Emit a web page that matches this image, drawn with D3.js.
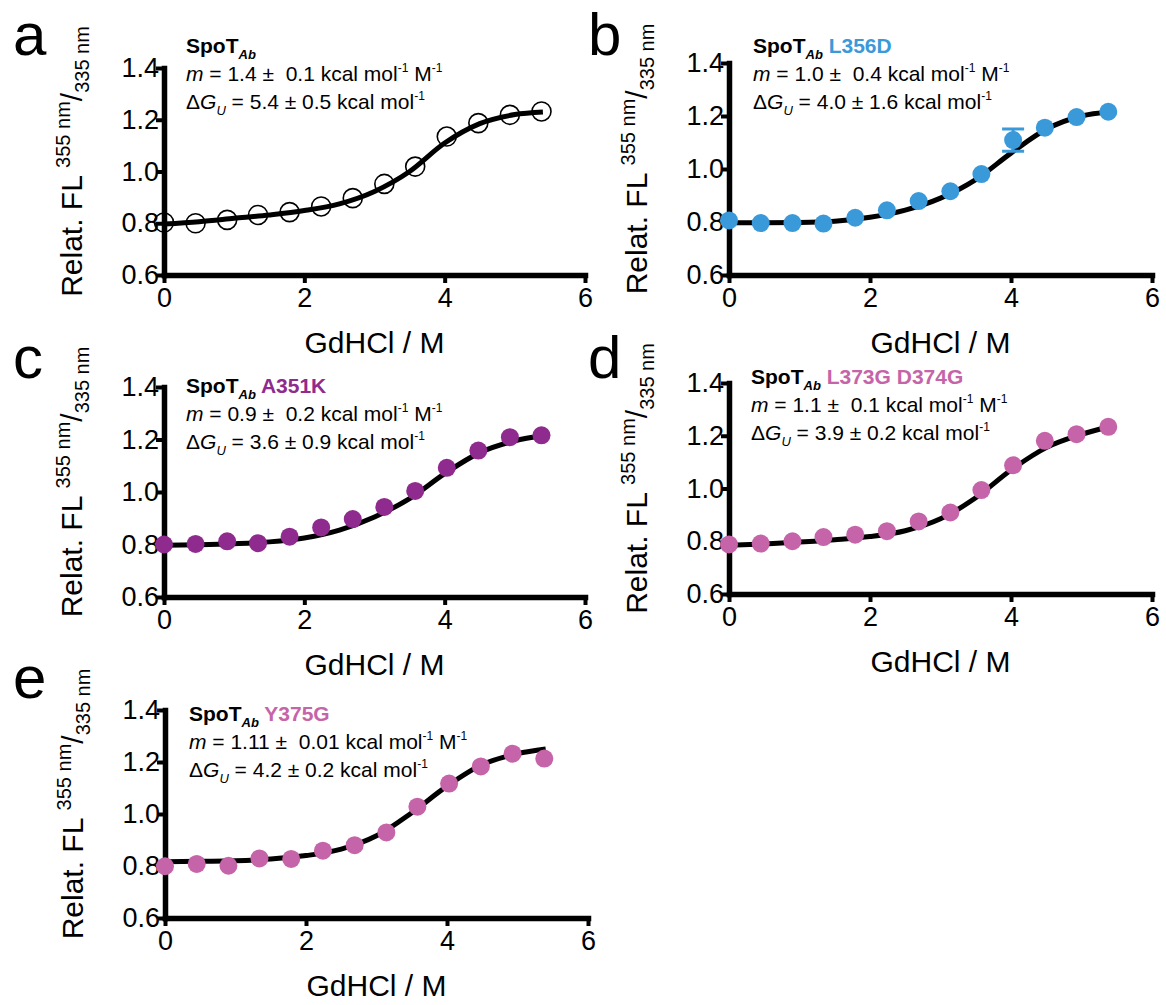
<!DOCTYPE html>
<html>
<head>
<meta charset="utf-8">
<script src="https://cdn.jsdelivr.net/npm/d3@7"></script>
<style>
  body { margin: 0; background: #fff; }
  text { font-family: "Liberation Sans", Arial, Helvetica, sans-serif; white-space: pre; }
</style>
</head>
<body>
<div id="plot"></div>
<script>
// GdHCl concentrations (M)
const conc = [0, 0.45, 0.9, 1.34, 1.79, 2.24, 2.69, 3.14, 3.58, 4.03, 4.48, 4.93, 5.38];
// x positions where the fitted curve was read
const fitConc = [0, 0.5, 1, 1.5, 2, 2.5, 3, 3.5, 4, 4.5, 5, 5.4];

const valsA = [0.803, 0.800, 0.813, 0.832, 0.843, 0.865, 0.897, 0.952, 1.019, 1.135, 1.187, 1.219, 1.232];
const fitA = [0.797, 0.806, 0.819, 0.832, 0.849, 0.875, 0.923, 1.000, 1.110, 1.185, 1.220, 1.230];

const valsB = [0.806, 0.796, 0.796, 0.794, 0.816, 0.844, 0.879, 0.916, 0.981, 1.109, 1.156, 1.196, 1.216];
const errB = [0, 0, 0, 0, 0, 0, 0, 0, 0, 0.042, 0, 0, 0];
const fitB = [0.797, 0.797, 0.798, 0.803, 0.818, 0.845, 0.890, 0.960, 1.060, 1.150, 1.200, 1.215];

const valsC = [0.800, 0.802, 0.812, 0.805, 0.830, 0.865, 0.897, 0.943, 1.004, 1.092, 1.158, 1.209, 1.216];
const fitC = [0.797, 0.799, 0.803, 0.810, 0.825, 0.855, 0.905, 0.975, 1.070, 1.150, 1.195, 1.215];

const valsD = [0.788, 0.791, 0.800, 0.816, 0.825, 0.838, 0.875, 0.909, 0.994, 1.088, 1.181, 1.206, 1.234];
const fitD = [0.785, 0.790, 0.797, 0.806, 0.818, 0.840, 0.885, 0.965, 1.070, 1.155, 1.205, 1.235];

const valsE = [0.799, 0.808, 0.801, 0.829, 0.827, 0.859, 0.880, 0.929, 1.028, 1.117, 1.183, 1.232, 1.213];
const fitE = [0.816, 0.818, 0.820, 0.827, 0.840, 0.865, 0.916, 1.005, 1.107, 1.190, 1.232, 1.250];

const xTicks = [0, 2, 4, 6];
const yTicks = [0.6, 0.8, 1.0, 1.2, 1.4];

const letters = ["a", "b", "c", "d", "e"];
const mutants = ["", "L356D", "A351K", "L373G D374G", "Y375G"];
const mText = ["1.4 \u00b1  0.1", "1.0 \u00b1  0.4", "0.9 \u00b1  0.2", "1.1 \u00b1  0.1", "1.11 \u00b1  0.01"];
const dgText = ["5.4 \u00b1 0.5", "4.0 \u00b1 1.6", "3.6 \u00b1 0.9", "3.9 \u00b1 0.2", "4.2 \u00b1 0.2"];

const series = [valsA, valsB, valsC, valsD, valsE];
const fits = [fitA, fitB, fitC, fitD, fitE];
const colours = ["none", "#3a9ad9", "#8f2a8e", "#c564a8", "#c564a8"];

// layout of each panel (axis box and annotation anchor)
const layout = [
  { x0: 164, x1: 585, y0: 68, y1: 275, lx: 13, ly: 55, ax: 186, ay: 53 },
  { x0: 729, x1: 1152, y0: 63, y1: 275, lx: 588, ly: 55, ax: 753, ay: 53 },
  { x0: 164, x1: 585, y0: 387, y1: 597, lx: 13, ly: 378, ax: 186, ay: 393 },
  { x0: 729, x1: 1152, y0: 383, y1: 594, lx: 588, ly: 378, ax: 751, ay: 384 },
  { x0: 165, x1: 588, y0: 710, y1: 918, lx: 13, ly: 698, ax: 189, ay: 721 },
];

const svg = d3.select("#plot").append("svg").attr("width", 1166).attr("height", 1005);

letters.forEach((letter, i) => drawPanel(i));

function drawPanel(i) {
  const L = layout[i];
  const x = d3.scaleLinear().domain([0, 6]).range([L.x0, L.x1]);
  const y = d3.scaleLinear().domain([0.6, 1.4]).range([L.y1, L.y0]);
  const g = svg.append("g");

  // panel letter
  g.append("text").attr("x", L.lx).attr("y", L.ly).attr("font-size", 60).text(letters[i]);

  // axes
  const yAxis = g.append("g").attr("transform", `translate(${L.x0},0)`)
    .call(d3.axisLeft(y).tickValues(yTicks).tickFormat(d3.format(".1f")).tickSize(8).tickSizeOuter(0).tickPadding(-3));
  const xAxis = g.append("g").attr("transform", `translate(0,${L.y1})`)
    .call(d3.axisBottom(x).tickValues(xTicks).tickFormat(d3.format("d")).tickSize(8).tickSizeOuter(0).tickPadding(5));
  [yAxis, xAxis].forEach((ax) => {
    ax.select(".domain").attr("stroke", "#000").attr("stroke-width", 5.5).attr("stroke-linecap", "square");
    ax.selectAll(".tick line").attr("stroke", "#000").attr("stroke-width", 4);
    ax.selectAll(".tick text").attr("font-size", 27).attr("fill", "#000")
      .attr("font-family", "Liberation Sans, Arial, sans-serif");
  });

  // axis titles
  g.append("text")
    .attr("x", (L.x0 + L.x1) / 2).attr("y", L.y1 + 78)
    .attr("text-anchor", "middle").attr("font-size", 30)
    .text("GdHCl / M");

  const yt = g.append("text")
    .attr("transform", `translate(${L.x0 - 82},${(L.y0 + L.y1) / 2 - 10}) rotate(-90)`)
    .attr("text-anchor", "middle").attr("font-size", 30);
  yt.append("tspan").text("Relat. FL ");
  yt.append("tspan").attr("font-size", 20).attr("dy", -12).text("355 nm");
  yt.append("tspan").attr("dy", 12).text("/");
  yt.append("tspan").attr("font-size", 20).attr("dy", 7).text("335 nm");

  // fitted curve
  const line = d3.line().x((d, j) => x(fitConc[j])).y((d) => y(d)).curve(d3.curveMonotoneX);
  g.append("path").datum(fits[i]).attr("d", line)
    .attr("fill", "none").attr("stroke", "#000").attr("stroke-width", 5);

  // error bars (panel b)
  if (i === 1) {
    const eb = g.append("g").selectAll("g").data(valsB.map((v, j) => ({ v, e: errB[j], c: conc[j] })).filter((d) => d.e > 0))
      .enter().append("g").attr("stroke", colours[1]).attr("stroke-width", 3);
    eb.append("line").attr("x1", (d) => x(d.c)).attr("x2", (d) => x(d.c))
      .attr("y1", (d) => y(d.v - d.e)).attr("y2", (d) => y(d.v + d.e));
    eb.append("line").attr("x1", (d) => x(d.c) - 11).attr("x2", (d) => x(d.c) + 11)
      .attr("y1", (d) => y(d.v - d.e)).attr("y2", (d) => y(d.v - d.e));
    eb.append("line").attr("x1", (d) => x(d.c) - 11).attr("x2", (d) => x(d.c) + 11)
      .attr("y1", (d) => y(d.v + d.e)).attr("y2", (d) => y(d.v + d.e));
  }

  // data points
  g.append("g").selectAll("circle").data(series[i]).enter().append("circle")
    .attr("cx", (d, j) => x(conc[j])).attr("cy", (d) => y(d))
    .attr("r", i === 0 ? 9.5 : 9)
    .attr("fill", colours[i])
    .attr("stroke", i === 0 ? "#000" : "none")
    .attr("stroke-width", 1.6);

  // annotation
  const t1 = g.append("text").attr("x", L.ax).attr("y", L.ay).attr("font-size", 21).attr("font-weight", "bold");
  t1.append("tspan").text("SpoT");
  t1.append("tspan").attr("font-size", 13).attr("font-style", "italic").attr("dy", 6).text("Ab");
  if (mutants[i]) {
    t1.append("tspan").attr("dy", -6).attr("fill", colours[i]).text(" " + mutants[i]);
  }

  const t2 = g.append("text").attr("x", L.ax).attr("y", L.ay + 28).attr("font-size", 21);
  t2.append("tspan").attr("font-style", "italic").text("m");
  t2.append("tspan").text(" = " + mText[i] + " kcal mol");
  t2.append("tspan").attr("font-size", 12).attr("dy", -9).text("-1");
  t2.append("tspan").attr("dy", 9).text(" M");
  t2.append("tspan").attr("font-size", 12).attr("dy", -9).text("-1");

  const t3 = g.append("text").attr("x", L.ax).attr("y", L.ay + 56).attr("font-size", 21);
  t3.append("tspan").text("\u0394");
  t3.append("tspan").attr("font-style", "italic").text("G");
  t3.append("tspan").attr("font-size", 13).attr("font-style", "italic").attr("dy", 6).text("U");
  t3.append("tspan").attr("dy", -6).text(" = " + dgText[i] + " kcal mol");
  t3.append("tspan").attr("font-size", 12).attr("dy", -9).text("-1");
}
</script>
</body>
</html>
